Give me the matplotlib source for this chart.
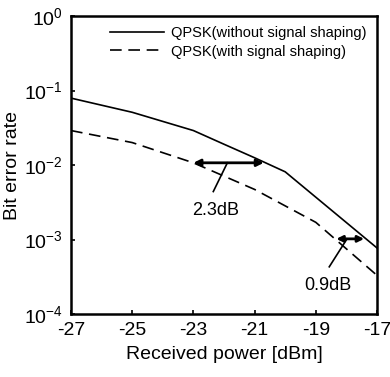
import numpy as np
import matplotlib
matplotlib.use('Agg')
import matplotlib.pyplot as plt

plt.rcParams['font.family'] = ['Liberation Sans', 'DejaVu Sans']
plt.rcParams['mathtext.fontset'] = 'custom'
plt.rcParams['mathtext.rm'] = 'Liberation Sans'
plt.rcParams['mathtext.it'] = 'Liberation Sans:italic'
plt.rcParams['mathtext.bf'] = 'Liberation Sans:bold'
plt.rcParams['axes.unicode_minus'] = False

# received power [dBm]
power_solid = [-27, -25, -23, -22, -21, -20, -17]
ber_solid = [0.079, 0.051, 0.029, 0.019, 0.0125, 0.0081, 0.00077]
power_dashed = [-27, -25, -23, -21, -19, -17]
ber_dashed = [0.029, 0.020, 0.0107, 0.0047, 0.0017, 0.00033]
labels = ['QPSK(without signal shaping)', 'QPSK(with signal shaping)']

fig = plt.figure(figsize=(3.9, 3.77), dpi=100)
ax = fig.add_axes([71/390, 1-314/377, (377-71)/390, (314-16)/377])

ax.semilogy(power_solid, ber_solid, 'k-', lw=1.2, label=labels[0])
ax.semilogy(power_dashed, ber_dashed, 'k--', lw=1.2, dashes=(7, 4), label=labels[1])

# gain arrows
ax.annotate('', xy=(-23, 0.0107), xytext=(-20.7, 0.0107),
            arrowprops=dict(arrowstyle='<|-|>', color='k', lw=2, mutation_scale=10, shrinkA=0, shrinkB=0))
ax.plot([-21.89, -22.35], [0.0107, 0.0044], 'k-', lw=1.2)
ax.text(-23.05, 0.0021, '2.3dB', fontsize=13)

ax.annotate('', xy=(-18.33, 0.00102), xytext=(-17.42, 0.00102),
            arrowprops=dict(arrowstyle='<|-|>', color='k', lw=2, mutation_scale=9, shrinkA=0, shrinkB=0))
ax.plot([-17.98, -18.56], [0.00102, 0.00043], 'k-', lw=1.2)
ax.text(-19.38, 0.00021, '0.9dB', fontsize=13)

ax.set_xlim(-27, -17)
ax.set_ylim(1e-4, 1)
ax.set_xticks([-27, -25, -23, -21, -19, -17])
ax.set_yticks([1e-4, 1e-3, 1e-2, 1e-1, 1])
ax.minorticks_off()
ax.tick_params(direction='in', length=3, width=1.2, labelsize=14, pad=6)
for s in ax.spines.values():
    s.set_linewidth(1.8)
ax.set_xlabel('Received power [dBm]', fontsize=14, labelpad=5)
ax.set_ylabel('Bit error rate', fontsize=14, labelpad=2)

ax.legend(loc='upper right', frameon=False, fontsize=10.5, handlelength=3.7,
          handletextpad=0.5, borderaxespad=0.3, labelspacing=0.3)

fig.savefig('out.png', dpi=100)
